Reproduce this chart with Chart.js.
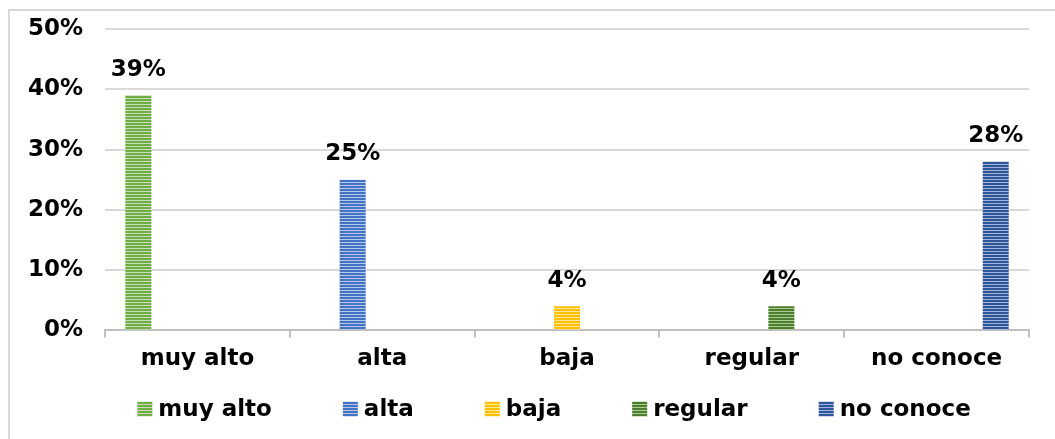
<!DOCTYPE html>
<html>
<head>
<meta charset="utf-8">
<script src="https://cdn.jsdelivr.net/npm/chart.js@4.4.1/dist/chart.umd.min.js"></script>
<style>
  html, body { margin: 0; padding: 0; background: #fff; }
</style>
</head>
<body>
<canvas id="nivelChart" width="1055" height="439"></canvas>
<script>
const categorias = ['muy alto', 'alta', 'baja', 'regular', 'no conoce'];
const valores = [39, 25, 4, 4, 28];
const ticksY = ['0%', '10%', '20%', '30%', '40%', '50%'];

// dark / light stripe colours per series
const tonos = [
    ['#70AD47', '#C5E0B4'],
    ['#4472C4', '#B4C7E7'],
    ['#FFC000', '#FFE699'],
    ['#4E7A31', '#A9D18E'],
    ['#2F5597', '#9DB4DE'],
];

const FUENTE = 'DejaVu Sans';

function rayado(oscuro, claro) {
    const c = document.createElement('canvas');
    c.width = 4;
    c.height = 3;
    const x = c.getContext('2d');
    x.fillStyle = oscuro;
    x.fillRect(0, 0, 4, 2);
    x.fillStyle = claro;
    x.fillRect(0, 2, 4, 1);
    return x.createPattern(c, 'repeat');
}

const datasets = categorias.map((cat, i) => ({
    label: cat,
    data: categorias.map((_, j) => (j === i ? valores[i] : null)),
    backgroundColor: rayado(tonos[i][0], tonos[i][1]),
    borderWidth: 0,
    categoryPercentage: 0.8,
    barPercentage: 0.88,
}));

const extras = {
    id: 'extras',
    afterDatasetsDraw(chart) {
        const ctx = chart.ctx;
        ctx.save();
        ctx.font = 'bold 23px "' + FUENTE + '"';
        ctx.fillStyle = '#000';
        ctx.textAlign = 'center';
        ctx.textBaseline = 'bottom';
        chart.data.datasets.forEach((ds, i) => {
            chart.getDatasetMeta(i).data.forEach((bar, j) => {
                if (ds.data[j] == null) return;
                ctx.fillText(ds.data[j] + '%', bar.x, bar.y - 14);
            });
        });
        ctx.restore();
    },
    afterDraw(chart) {
        const ctx = chart.ctx;
        const area = chart.chartArea;
        ctx.save();
        // legend
        ctx.font = 'bold 23px "' + FUENTE + '"';
        ctx.textBaseline = 'middle';
        ctx.textAlign = 'left';
        const caja = 15, sep = 6, hueco = 71;
        const anchos = chart.data.datasets.map(ds => ctx.measureText(ds.label).width);
        const total = anchos.reduce((a, w) => a + caja + sep + w, 0) + hueco * (anchos.length - 1);
        let x = (area.left + area.right) / 2 - 13 - total / 2;
        const y = 409;
        chart.data.datasets.forEach((ds, i) => {
            ctx.fillStyle = ds.backgroundColor;
            ctx.fillRect(x, y - caja / 2, caja, caja);
            ctx.fillStyle = '#000';
            ctx.fillText(ds.label, x + caja + sep, y + 1);
            x += caja + sep + anchos[i] + hueco;
        });
        // outer frame
        ctx.strokeStyle = '#d9d9d9';
        ctx.lineWidth = 2;
        ctx.beginPath();
        ctx.moveTo(9, 439);
        ctx.lineTo(9, 10);
        ctx.lineTo(1055, 10);
        ctx.stroke();
        ctx.restore();
    }
};

new Chart(document.getElementById('nivelChart'), {
    type: 'bar',
    data: { labels: categorias, datasets: datasets },
    plugins: [extras],
    options: {
        responsive: false,
        animation: false,
        layout: { padding: { left: 6, right: 26, top: 29, bottom: 58 } },
        plugins: {
            legend: { display: false },
            tooltip: { enabled: false },
        },
        scales: {
            x: {
                grid: {
                    drawOnChartArea: false,
                    tickLength: 7,
                    color: '#bfbfbf',
                    lineWidth: 2,
                },
                border: { color: '#bfbfbf', width: 2 },
                ticks: {
                    padding: 8,
                    color: '#000',
                    font: { family: FUENTE, weight: 'bold', size: 23 },
                },
            },
            y: {
                min: 0,
                max: 50,
                afterFit(scale) { scale.paddingTop = 0; },
                ticks: {
                    stepSize: 10,
                    padding: 22,
                    color: '#000',
                    font: { family: FUENTE, weight: 'bold', size: 23 },
                    callback: (v, i) => ticksY[i],
                },
                grid: { color: '#d9d9d9', lineWidth: 2, drawTicks: false },
                border: { display: false },
            },
        },
    },
});
</script>
</body>
</html>
